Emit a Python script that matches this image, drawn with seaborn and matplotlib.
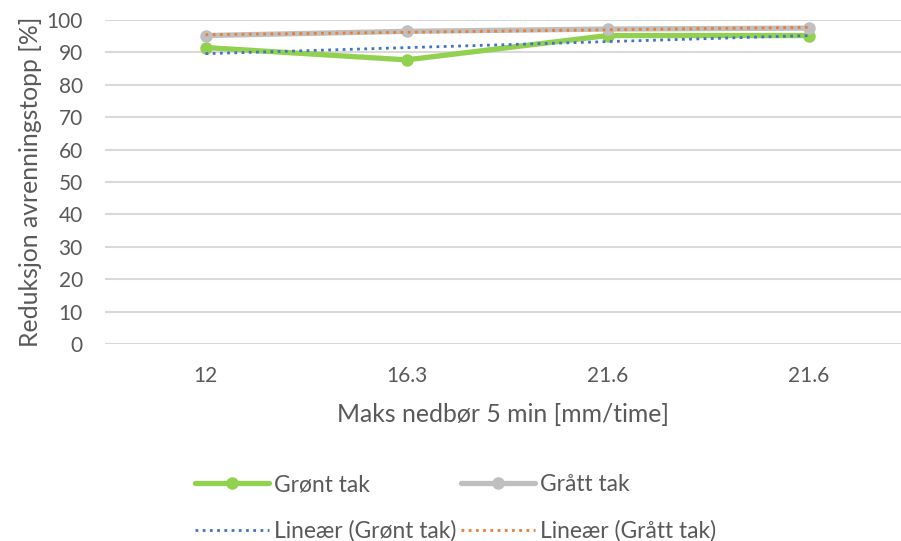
import numpy as np
import pandas as pd
import matplotlib
matplotlib.use("Agg")
import matplotlib.pyplot as plt
import seaborn as sns

categories = ["12", "16.3", "21.6", "21.6"]
gront_tak = [91.5, 87.7, 95.2, 95.2]
gratt_tak = [95.2, 96.5, 97.2, 97.5]
yticks = [0, 10, 20, 30, 40, 50, 60, 70, 80, 90, 100]

sns.set_theme(style="white")
plt.rcParams["font.family"] = ["Lato", "DejaVu Sans"]

TXT = "#595959"
GREEN = "#92D050"
GREY = "#BFBFBF"
BLUE = "#4472C4"
ORANGE = "#ED7D31"

pos = np.arange(len(categories))
df = pd.DataFrame({"pos": pos, "Grønt tak": gront_tak, "Grått tak": gratt_tak})

# Excel-style linear trendlines (fit against category index 1..n)
xi = pos + 1
fit_g = np.polyval(np.polyfit(xi, gront_tak, 1), xi)
fit_s = np.polyval(np.polyfit(xi, gratt_tak, 1), xi)
df["Lineær (Grønt tak)"] = fit_g
df["Lineær (Grått tak)"] = fit_s

fig = plt.figure(figsize=(9.01, 5.41), dpi=100)
ax = fig.add_axes([105/901, 1-344/541, 1-105/901, (344-20)/541])

sns.lineplot(data=df, x="pos", y="Grønt tak", ax=ax, color=GREEN, lw=3.8,
             marker="o", markersize=9, markeredgewidth=0, label="Grønt tak", zorder=3)
sns.lineplot(data=df, x="pos", y="Grått tak", ax=ax, color=GREY, lw=3.8,
             marker="o", markersize=9, markeredgewidth=0, label="Grått tak", zorder=3)
sns.lineplot(data=df, x="pos", y="Lineær (Grønt tak)", ax=ax, color=BLUE, lw=2,
             linestyle=(0, (1, 1.6)), label="Lineær (Grønt tak)", zorder=4)
sns.lineplot(data=df, x="pos", y="Lineær (Grått tak)", ax=ax, color=ORANGE, lw=2,
             linestyle=(0, (1, 1.6)), label="Lineær (Grått tak)", zorder=4)

ax.set_xlim(-0.5, 3.46)
ax.set_ylim(0, 100)
ax.set_yticks(yticks)
ax.set_xticks(pos)
ax.set_xticklabels(categories)
ax.tick_params(axis="both", colors=TXT, labelsize=15, length=0)
ax.tick_params(axis="y", pad=16)
ax.tick_params(axis="x", pad=16)
ax.grid(axis="y", color="#D9D9D9", lw=1.5)
ax.set_axisbelow(True)
for s in ax.spines.values():
    s.set_visible(False)
ax.set_xlabel("Maks nedbør 5 min [mm/time]", color=TXT, fontsize=17.8, labelpad=12)
ax.set_ylabel("Reduksjon avrenningstopp [%]", color=TXT, fontsize=17.8, labelpad=3)

h, l = ax.get_legend_handles_labels()
ax.get_legend().remove()
order = [0, 2, 1, 3]
leg = fig.legend([h[i] for i in order], [l[i] for i in order], ncol=2,
                 loc="center", bbox_to_anchor=(456/901, 1-508/541), frameon=False,
                 fontsize=16.4, handlelength=3.25, handletextpad=0.22, columnspacing=0.2,
                 labelspacing=1.1)
for t in leg.get_texts():
    t.set_color(TXT)

fig.savefig("out.png", dpi=100)
